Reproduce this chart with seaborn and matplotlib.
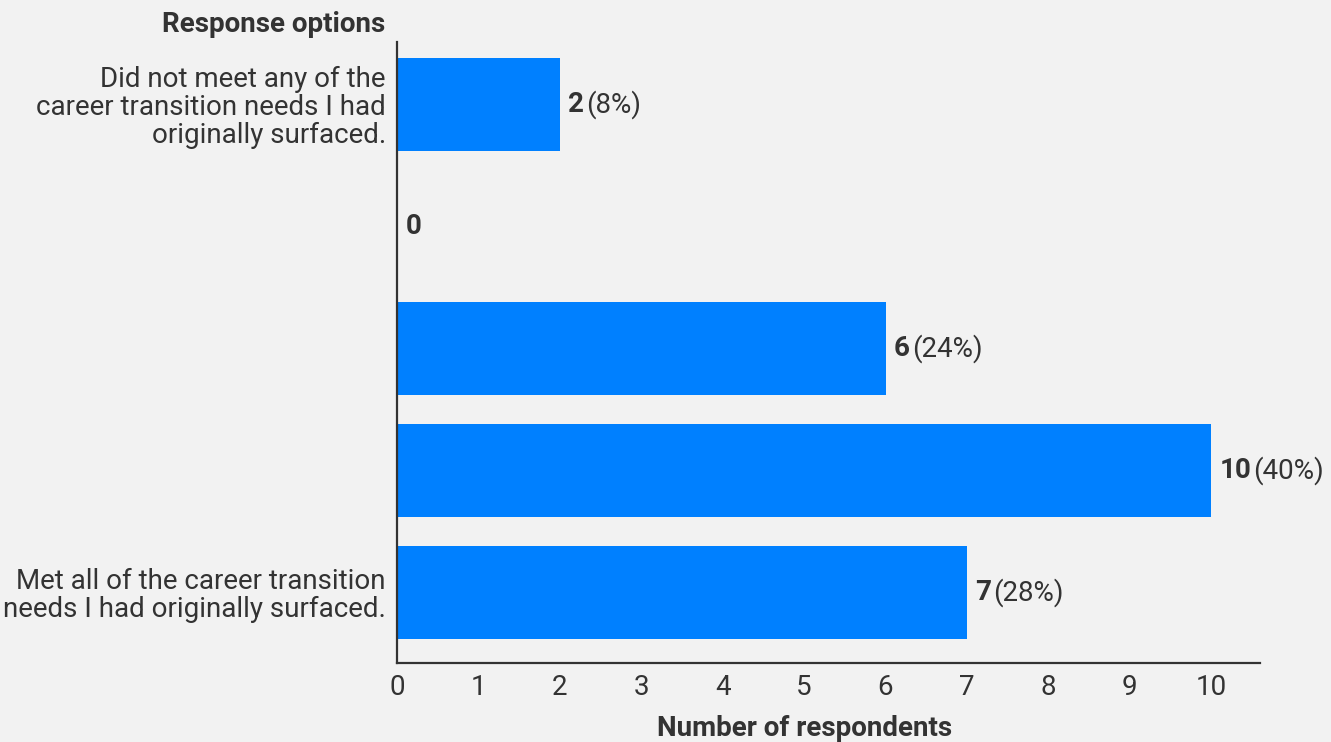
import matplotlib
matplotlib.use("Agg")
import matplotlib.pyplot as plt
import matplotlib.transforms as mtransforms
import pandas as pd
import seaborn as sns

# Survey responses, ordered from "did not meet" to "met all"
options = ["opt1", "opt2", "opt3", "opt4", "opt5"]
option_labels = [
    "Did not meet any of the\ncareer transition needs I had\noriginally surfaced.",
    "",
    "",
    "",
    "Met all of the career transition\nneeds I had originally surfaced.",
]
counts = [2, 0, 6, 10, 7]
percents = ["8%", "", "24%", "40%", "28%"]
x_ticks = [0, 1, 2, 3, 4, 5, 6, 7, 8, 9, 10]

BG = "#f2f2f2"
BAR = "#0080ff"
INK = "#333333"
FS = 20

sns.set_theme(style="white")
plt.rcParams["font.family"] = ["Roboto", "DejaVu Sans"]

df = pd.DataFrame({"option": options, "count": counts})

fig = plt.figure(figsize=(13.31, 7.42), dpi=100, facecolor=BG)
ax = fig.add_axes([0.2983, 0.1065, 0.9467 - 0.2983, 0.9434 - 0.1065])
ax.set_facecolor(BG)

sns.barplot(data=df, y="option", x="count", order=options, color=BAR,
            saturation=1, width=0.76, orient="h", linewidth=0, ax=ax)

ax.set_xlim(0, 10.6)
ax.set_ylim(4.58, -0.51)
ax.set_xticks(x_ticks)
ax.set_xticklabels([str(t) for t in x_ticks], fontsize=FS, color=INK)
ax.set_yticks(range(len(options)))
ax.set_yticklabels(option_labels, fontsize=FS, color=INK, linespacing=1.05)
ax.tick_params(axis="x", length=0, pad=8)
ax.tick_params(axis="y", length=0, pad=8)
ax.set_xlabel("")
ax.set_ylabel("")

for side in ["top", "right"]:
    ax.spines[side].set_visible(False)
for side in ["left", "bottom"]:
    ax.spines[side].set_color(INK)
    ax.spines[side].set_linewidth(1.6)

# Value labels: bold count followed by regular-weight share
fig.canvas.draw()
renderer = fig.canvas.get_renderer()
for i, (c, p) in enumerate(zip(counts, percents)):
    t = ax.annotate(str(c), xy=(c, i), xytext=(6, 0), textcoords="offset points",
                    ha="left", va="center", fontsize=FS, fontweight="bold", color=INK)
    if p:
        bb = t.get_window_extent(renderer=renderer)
        trans = mtransforms.offset_copy(ax.transData, fig=fig,
                                        x=6 + bb.width * 72 / fig.dpi + 1.5, y=0,
                                        units="points")
        ax.text(c, i, f"({p})", transform=trans, ha="left", va="center",
                fontsize=FS, color=INK)

# Axis titles
fig.text(385 / 1331, 1 - 25 / 742, "Response options", ha="right", va="center",
         fontsize=FS, fontweight="bold", color=INK)
xt = mtransforms.blended_transform_factory(ax.transData, fig.transFigure)
ax.text(5, 1 - 728 / 742, "Number of respondents", transform=xt, ha="center",
        va="center", fontsize=FS, fontweight="bold", color=INK)

fig.savefig("out.png", dpi=100, facecolor=BG)
